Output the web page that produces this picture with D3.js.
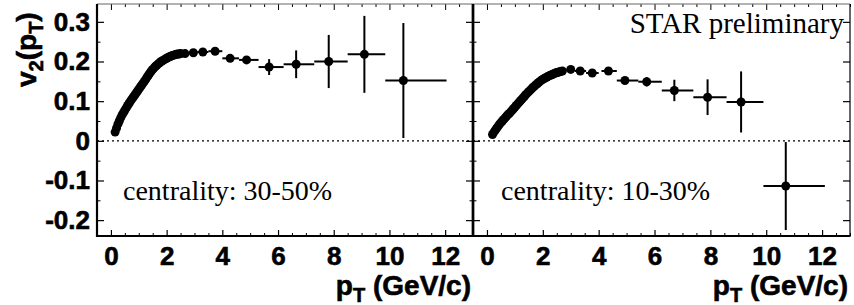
<!DOCTYPE html>
<html><head><meta charset="utf-8">
<script src="https://cdn.jsdelivr.net/npm/d3@7"></script>
<style>body{margin:0;background:#fff}svg{display:block}</style>
</head><body>
<svg id="c" width="854" height="305"></svg>
<script>
// ---- data ----
const xTickValues = [0, 2, 4, 6, 8, 10, 12];
const yTickValues = [-0.2, -0.1, 0, 0.1, 0.2, 0.3];
const yTickLabels = ["-0.2", "-0.1", "0", "0.1", "0.2", "0.3"];

// 30-50% : dense low-pT points
const leftCurvePt = [0.15,0.20,0.25,0.30,0.35,0.40,0.45,0.50,0.55,0.60,0.65,0.70,0.75,0.80,0.85,0.90,0.95,1.00,1.05,1.10,1.15,1.20,1.25,1.30,1.35,1.40,1.45,1.50,1.55,1.60,1.65,1.70,1.75,1.80,1.85,1.90,1.95,2.00,2.05,2.10,2.15,2.20,2.25,2.30,2.35,2.40,2.45,2.50];
const leftCurveV2 = [0.022,0.032,0.042,0.050,0.058,0.065,0.071,0.077,0.083,0.089,0.094,0.100,0.105,0.110,0.115,0.120,0.125,0.130,0.135,0.140,0.145,0.150,0.155,0.161,0.166,0.171,0.176,0.180,0.184,0.188,0.191,0.194,0.197,0.200,0.202,0.204,0.206,0.208,0.210,0.212,0.213,0.215,0.216,0.217,0.218,0.219,0.219,0.220];
// 30-50% : binned points
const leftPt  = [2.66, 2.96, 3.30, 3.74, 4.28, 4.87, 5.68, 6.65, 7.82, 9.10, 10.50];
const leftV2  = [0.220, 0.222, 0.224, 0.226, 0.208, 0.204, 0.186, 0.193, 0.200, 0.218, 0.152];
const leftXlo = [2.55, 2.80, 3.10, 3.50, 4.00, 4.60, 5.30, 6.20, 7.30, 8.50, 9.85];
const leftXhi = [2.80, 3.10, 3.50, 4.00, 4.60, 5.30, 6.20, 7.30, 8.50, 9.85, 12.05];
const leftErr = [0.003, 0.003, 0.004, 0.005, 0.006, 0.007, 0.020, 0.035, 0.067, 0.097, 0.145];

// 10-30% : dense low-pT points
const rightCurvePt = [0.20,0.25,0.30,0.35,0.40,0.45,0.50,0.55,0.60,0.65,0.70,0.75,0.80,0.85,0.90,0.95,1.00,1.05,1.10,1.15,1.20,1.25,1.30,1.35,1.40,1.45,1.50,1.55,1.60,1.65,1.70,1.75,1.80,1.85,1.90,1.95,2.00,2.05,2.10,2.15,2.20,2.25,2.30,2.35,2.40,2.45,2.50,2.55,2.60,2.65,2.70];
const rightCurveV2 = [0.016,0.022,0.027,0.032,0.037,0.042,0.046,0.050,0.054,0.058,0.062,0.066,0.069,0.073,0.077,0.081,0.085,0.089,0.093,0.097,0.101,0.105,0.109,0.113,0.117,0.121,0.124,0.128,0.131,0.135,0.138,0.141,0.144,0.147,0.150,0.153,0.155,0.157,0.159,0.161,0.163,0.165,0.166,0.168,0.169,0.171,0.172,0.173,0.174,0.175,0.176];
// 10-30% : binned points
const rightPt  = [3.00, 3.34, 3.77, 4.35, 4.94, 5.72, 6.71, 7.90, 9.10, 10.70];
const rightV2  = [0.180, 0.176, 0.171, 0.176, 0.152, 0.149, 0.127, 0.110, 0.098, -0.114];
const rightXlo = [2.85, 3.15, 3.55, 4.10, 4.65, 5.42, 6.26, 7.39, 8.58, 9.90];
const rightXhi = [3.15, 3.55, 4.00, 4.65, 5.42, 6.26, 7.39, 8.58, 9.90, 12.10];
const rightErr = [0.003, 0.004, 0.005, 0.006, 0.007, 0.012, 0.027, 0.045, 0.077, 0.111];

const centralityLabels = ["centrality: 30-50%", "centrality: 10-30%"];
const starLabel = "STAR preliminary";

// ---- layout ----
const svg = d3.select("#c");
const yTopPx = 4, yBotPx = 236;
const xDomain = [-0.5, 13], yDomain = [-0.24, 0.345];
const y = d3.scaleLinear().domain(yDomain).range([yBotPx, yTopPx]);
const panels = [
  {x0: 97, x1: 473, curvePt: leftCurvePt, curveV2: leftCurveV2, pt: leftPt, v2: leftV2, xlo: leftXlo, xhi: leftXhi, err: leftErr, label: centralityLabels[0], labelX: 123, yLabels: true},
  {x0: 473, x1: 850, curvePt: rightCurvePt, curveV2: rightCurveV2, pt: rightPt, v2: rightV2, xlo: rightXlo, xhi: rightXhi, err: rightErr, label: centralityLabels[1], labelX: 501, yLabels: false}
];
const boldFont = "'Liberation Sans', Arial, sans-serif";
const serifFont = "'Liberation Serif', 'Times New Roman', serif";
const minorX = d3.range(-0.5, 13.01, 0.5).filter(v => !xTickValues.includes(v));
const minorY = d3.range(-0.2, 0.3401, 0.05).map(v => Math.round(v*100)/100).filter(v => Math.abs(Math.round(v*10) - v*10) > 1e-6);

function heavy(sel, size) {
  sel.attr("font-family", boldFont).attr("font-weight", "bold").attr("font-size", size)
    .attr("fill", "#000").attr("stroke", "#000").attr("stroke-width", 0.6);
}

panels.forEach((p, i) => {
  const x = d3.scaleLinear().domain(xDomain).range([p.x0, p.x1]);
  const g = svg.append("g");

  // zero dotted line
  g.append("line").attr("x1", p.x0).attr("x2", p.x1).attr("y1", y(0)).attr("y2", y(0))
    .attr("stroke", "#000").attr("stroke-width", 1.2).attr("stroke-dasharray", "2,3");

  // bottom axis (ticks inward)
  const bAx = g.append("g").attr("transform", `translate(0,${yBotPx})`)
    .call(d3.axisBottom(x).tickValues(xTickValues).tickSize(-6).tickPadding(11).tickFormat(d3.format("d")));
  bAx.select(".domain").remove();
  bAx.selectAll("line").attr("stroke-width", 1.2);
  heavy(bAx.selectAll("text"), 26);
  const bMin = g.append("g").attr("transform", `translate(0,${yBotPx})`)
    .call(d3.axisBottom(x).tickValues(minorX).tickSize(-3).tickFormat(""));
  bMin.select(".domain").remove();
  // top ticks
  const tAx = g.append("g").attr("transform", `translate(0,${yTopPx})`)
    .call(d3.axisTop(x).tickValues(xTickValues).tickSize(-6).tickFormat(""));
  tAx.select(".domain").remove();
  const tMin = g.append("g").attr("transform", `translate(0,${yTopPx})`)
    .call(d3.axisTop(x).tickValues(minorX).tickSize(-3).tickFormat(""));
  tMin.select(".domain").remove();

  // left axis
  const lAx = g.append("g").attr("transform", `translate(${p.x0},0)`)
    .call(d3.axisLeft(y).tickValues(yTickValues).tickSize(-7).tickPadding(7)
      .tickFormat((d, k) => p.yLabels ? yTickLabels[k] : ""));
  lAx.select(".domain").remove();
  lAx.selectAll("line").attr("stroke-width", 1.2);
  heavy(lAx.selectAll("text"), 26);
  const lMin = g.append("g").attr("transform", `translate(${p.x0},0)`)
    .call(d3.axisLeft(y).tickValues(minorY).tickSize(-3.5).tickFormat(""));
  lMin.select(".domain").remove();
  // right ticks
  const rAx = g.append("g").attr("transform", `translate(${p.x1},0)`)
    .call(d3.axisRight(y).tickValues(yTickValues).tickSize(-7).tickFormat(""));
  rAx.select(".domain").remove();
  rAx.selectAll("line").attr("stroke-width", 1.2);
  const rMin = g.append("g").attr("transform", `translate(${p.x1},0)`)
    .call(d3.axisRight(y).tickValues(minorY).tickSize(-3.5).tickFormat(""));
  rMin.select(".domain").remove();

  // frame
  g.append("line").attr("x1", p.x0).attr("x2", p.x1).attr("y1", yTopPx).attr("y2", yTopPx).attr("stroke", "#666").attr("stroke-width", 1);
  g.append("line").attr("x1", p.x0).attr("x2", p.x1).attr("y1", yBotPx).attr("y2", yBotPx).attr("stroke", "#000").attr("stroke-width", 2.2);
  g.append("line").attr("x1", p.x0).attr("x2", p.x0).attr("y1", yTopPx).attr("y2", yBotPx + 1).attr("stroke", "#000").attr("stroke-width", 2.2);
  g.append("line").attr("x1", p.x1).attr("x2", p.x1).attr("y1", yTopPx).attr("y2", yBotPx + 1).attr("stroke", "#000").attr("stroke-width", i === 0 ? 2.6 : 1.2);

  // error bars
  const eb = g.append("g").attr("stroke", "#000").attr("stroke-width", 2);
  p.pt.forEach((v, k) => {
    eb.append("line").attr("x1", x(p.xlo[k])).attr("x2", x(p.xhi[k])).attr("y1", y(p.v2[k])).attr("y2", y(p.v2[k]));
    eb.append("line").attr("x1", x(v)).attr("x2", x(v)).attr("y1", y(p.v2[k] - p.err[k])).attr("y2", y(p.v2[k] + p.err[k]));
  });
  // markers
  g.append("g").selectAll("circle").data(p.curvePt).join("circle")
    .attr("cx", d => x(d)).attr("cy", (d, k) => y(p.curveV2[k])).attr("r", 4.5).attr("fill", "#000");
  g.append("g").selectAll("circle").data(p.pt).join("circle")
    .attr("cx", d => x(d)).attr("cy", (d, k) => y(p.v2[k])).attr("r", 4.5).attr("fill", "#000");

  // centrality label
  g.append("text").attr("x", p.labelX).attr("y", 200).attr("font-family", serifFont).attr("font-size", 28).attr("fill", "#000").text(p.label);

  // x title
  const xt = g.append("text").attr("x", p.x1 - 2).attr("y", 295).attr("text-anchor", "end");
  heavy(xt, 28);
  xt.append("tspan").text("p");
  xt.append("tspan").attr("font-size", 20).attr("dy", 7).text("T");
  xt.append("tspan").attr("dy", -7).text(" (GeV/c)");
});

// STAR preliminary
svg.append("text").attr("x", 844).attr("y", 33).attr("text-anchor", "end")
  .attr("font-family", serifFont).attr("font-size", 29).attr("fill", "#000").text(starLabel);

// y title
const yt = svg.append("text").attr("transform", "translate(36,87) rotate(-90)");
heavy(yt, 28);
yt.append("tspan").text("v");
yt.append("tspan").attr("font-size", 20).attr("dy", 7).text("2");
yt.append("tspan").attr("dy", -7).text("(p");
yt.append("tspan").attr("font-size", 20).attr("dy", 7).text("T");
yt.append("tspan").attr("dy", -7).text(")");
</script>
</body></html>
